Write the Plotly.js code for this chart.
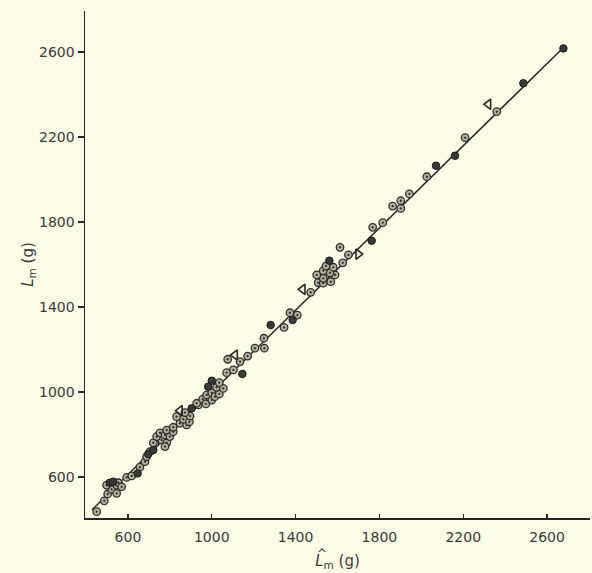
<!DOCTYPE html>
<html>
<head>
<meta charset="utf-8">
<script src="https://cdn.plot.ly/plotly-3.0.1.min.js"></script>
<style>html,body{margin:0;padding:0;background:#fcfbe5;}#chart{width:592px;height:573px;}</style>
</head>
<body>
<div id="chart"></div>
<script>
// Open (dotted) circles
const openX = [451,487,503,522,498,546,554,546,570,594,618,657,681,689,705,729,761,785,777,721,737,753,777,800,785,816,816,848,880,864,893,832,896,872,936,928,957,972,976,1000,1000,1015,1036,1023,1055,1036,1071,1103,1076,1135,1171,1206,1251,1249,1345,1373,1408,1472,1508,1532,1568,1532,1588,1501,1564,1532,1580,1545,1625,1652,1612,1768,1816,1863,1902,1902,1943,2026,2209,2360];
const openY = [437,488,520,542,562,562,573,523,554,598,605,646,672,696,719,758,774,761,743,761,790,808,798,790,821,813,834,853,845,872,860,884,887,903,939,947,966,944,986,962,997,978,991,1022,1017,1044,1091,1104,1154,1143,1169,1206,1206,1253,1304,1373,1362,1469,1515,1512,1519,1535,1551,1551,1561,1571,1587,1593,1608,1645,1681,1775,1797,1875,1864,1900,1932,2013,2197,2319];
// Filled circles
const fillX = [514,530,646,697,721,904,983,1000,1146,1281,1386,1561,1763,2070,2161,2487,2678];
const fillY = [573,578,617,708,727,923,1025,1053,1085,1315,1339,1618,1712,2065,2112,2453,2617];
// Open triangles
const triLX = [848,1111,1434,2320];
const triLY = [912,1174,1483,2354];
const triRX = [1699];
const triRY = [1649];
// Fitted line end points
const lineX = [428,2676];
const lineY = [445,2619];
// Tick values
const tickVals = [600,1000,1400,1800,2200,2600];
const tickText = ['600','1000','1400','1800','2200','2600'];

const ink = '#262626';
const txt = '#3a3a3a';
const traces = [
  {x: lineX, y: lineY, mode: 'lines', line: {color: ink, width: 1.5}, hoverinfo: 'skip'},
  {x: openX, y: openY, mode: 'markers', marker: {symbol: 'circle-dot', size: 7.5, color: '#b3b3a0', line: {color: '#2e2e2e', width: 1.3}}},
  {x: fillX, y: fillY, mode: 'markers', marker: {symbol: 'circle', size: 7.5, color: '#3a3a3a', line: {color: '#1a1a1a', width: 1}}},
  {x: triLX, y: triLY, mode: 'markers', marker: {symbol: 'triangle-left-open', size: 9, color: ink, line: {color: ink, width: 1.6}}},
  {x: triRX, y: triRY, mode: 'markers', marker: {symbol: 'triangle-right-open', size: 9, color: ink, line: {color: ink, width: 1.6}}}
];

const tickFont = {family: 'DejaVu Sans, sans-serif', size: 14, color: txt};
const titleFont = {family: 'DejaVu Sans, sans-serif', size: 15, color: txt};
const layout = {
  width: 592, height: 573,
  margin: {l: 85, r: 2, t: 11, b: 55},
  paper_bgcolor: '#fcfbe5', plot_bgcolor: '#fcfbe5',
  showlegend: false,
  xaxis: {
    range: [395, 2805], showgrid: false, zeroline: false,
    showline: true, linecolor: ink, linewidth: 1.5,
    ticks: 'inside', ticklen: 4, tickwidth: 1.2, tickcolor: ink,
    tickvals: tickVals, ticktext: tickText, tickfont: tickFont,
    ticklabelstandoff: 6,
    title: {text: '<i>L</i><sub>m</sub> (g)', font: titleFont, standoff: 11}
  },
  yaxis: {
    range: [407, 2793], showgrid: false, zeroline: false,
    showline: true, linecolor: ink, linewidth: 1.5,
    ticks: 'outside', ticklen: 6, tickwidth: 1.2, tickcolor: ink,
    tickvals: tickVals, ticktext: tickText, tickfont: tickFont,
    title: {text: '<i>L</i><sub>m</sub> (g)', font: titleFont, standoff: 2}
  },
  annotations: [
    {text: '^', xref: 'paper', yref: 'paper', x: 0.469, y: -0.071, xanchor: 'center', yanchor: 'middle',
     showarrow: false, font: {family: 'DejaVu Sans, sans-serif', size: 12, color: txt}}
  ]
};
Plotly.newPlot('chart', traces, layout, {displayModeBar: false, staticPlot: true});
</script>
</body>
</html>
